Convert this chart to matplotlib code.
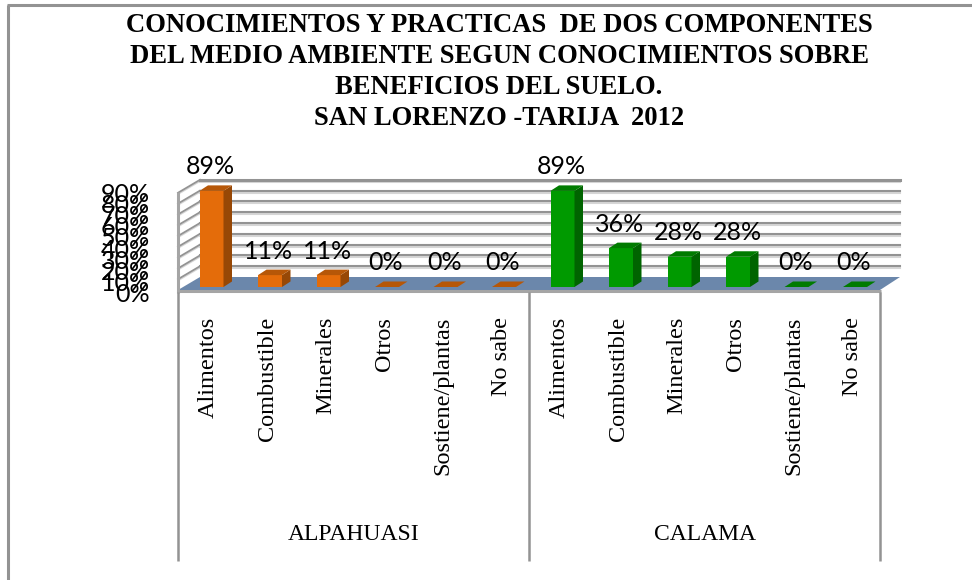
import numpy as np
import matplotlib
matplotlib.use('Agg')
import matplotlib.pyplot as plt
from matplotlib.patches import Polygon

title_lines = ['CONOCIMIENTOS Y PRACTICAS  DE DOS COMPONENTES',
               'DEL MEDIO AMBIENTE SEGUN CONOCIMIENTOS SOBRE',
               'BENEFICIOS DEL SUELO.',
               'SAN LORENZO -TARIJA  2012']
categories = ['Alimentos', 'Combustible', 'Minerales', 'Otros', 'Sostiene/plantas', 'No sabe']
groups = ['ALPAHUASI', 'CALAMA']
alpahuasi = [89, 11, 11, 0, 0, 0]
calama = [89, 36, 28, 28, 0, 0]
y_ticks = [0, 10, 20, 30, 40, 50, 60, 70, 80, 90]

W, H = 972, 580
# pixels per category / per percent point, and where bar 0 / value 0 sit in the picture
sx, sy = 58.5, 1.08
x0, y0 = 211.5, 287


def X(px):
    return (px - x0) / sx


def Y(py):
    return (y0 - py) / sy


fig = plt.figure(figsize=(W / 100, H / 100), dpi=100)
ax = fig.add_axes([0, 0, 1, 1])
ax.set_xlim(X(0), X(W))
ax.set_ylim(Y(H), Y(0))
ax.axis('off')

grey = '#939393'
light = '#d6d6d6'

# outer frame, open on the right and at the bottom
ax.plot([X(8), X(8)], [Y(580), Y(5)], color=grey, lw=2.2, solid_capstyle='butt')
ax.plot([X(7), X(972)], [Y(5), Y(5)], color=grey, lw=2.2, solid_capstyle='butt')

# floor
ax.add_patch(Polygon([(X(178), Y(290)), (X(880), Y(290)), (X(900), Y(277)), (X(200), Y(277))],
                     closed=True, fc='#6b87ab', ec='none', zorder=1))

# back wall and side wall grid
for t in y_ticks[1:]:
    yb = 277 - t * sy
    yf = 290 - t * sy
    w = 2.2 if t == 90 else 1.5
    ax.plot([X(200), X(900)], [Y(yb + 2), Y(yb + 2)], color=light, lw=1.5, zorder=0.5)
    ax.plot([X(200), X(900)], [Y(yb), Y(yb)], color=grey, lw=w, zorder=0.6)
    ax.plot([X(178), X(200)], [Y(yf), Y(yb)], color=grey, lw=1.3, zorder=0.6)
    ax.plot([X(178), X(200)], [Y(yf + 1.5), Y(yb + 1.5)], color=light, lw=1, zorder=0.5)
ax.plot([X(178), X(178)], [Y(293), Y(192)], color='#a5a5a5', lw=2.2, solid_capstyle='butt', zorder=2)

# front axis line and group separators
ax.plot([X(177), X(881)], [Y(291.5), Y(291.5)], color='#a5a5a5', lw=2.2, solid_capstyle='butt', zorder=2)
for px in [178, 529, 880]:
    ax.plot([X(px), X(px)], [Y(292), Y(561)], color=grey, lw=1.8, solid_capstyle='butt')

# bars
bw = 24 / sx
dx, dy = 8.5 / sx, 5.5 / sy
series = [(alpahuasi, 0, '#e46c0a', '#974806', '#b65708'),
          (calama, 6, '#009a00', '#006400', '#007b00')]
for vals, start, front, side, top in series:
    pos = np.arange(len(vals)) + start
    ax.bar(pos, vals, width=bw, color=front, zorder=3)
    for p, v in zip(pos, vals):
        l, r = p - bw / 2, p + bw / 2
        if v > 0:
            ax.add_patch(Polygon([(r, 0), (r + dx, dy), (r + dx, v + dy), (r, v)], fc=side, ec='none', zorder=3))
        ax.add_patch(Polygon([(l, v), (r, v), (r + dx, v + dy), (l + dx, v + dy)], fc=top, ec='none', zorder=3))
        ax.text(p - 1 / sx, v + 16.5 / sy, '%d%%' % v, ha='center', va='baseline',
                fontsize=18, family='Lato', color='black', zorder=4)

# category and group labels
for g, name in enumerate(groups):
    for i, c in enumerate(categories):
        ax.text(g * 6 + i - 3 / sx, Y(317), c, rotation=90, ha='center', va='top',
                fontsize=17.5, family='Liberation Serif', color='black')
    ax.text(2.5 + g * 6 - 4 / sx, Y(534), name, ha='center', va='center',
            fontsize=17, family='Liberation Serif', color='black')

# value axis labels, they overlap in the original too
for t in y_ticks:
    ax.text(X(150), Y(295 - t * 1.12), '%d%%' % t, ha='right', va='center',
            fontsize=18, family='Lato', color='black')

# title
for i, line in enumerate(title_lines):
    ax.text(X(499), Y(25 + i * 31.3), line, ha='center', va='center',
            fontsize=19.2, family='Liberation Serif', weight='bold', color='black')

fig.savefig('out.png', dpi=100)
